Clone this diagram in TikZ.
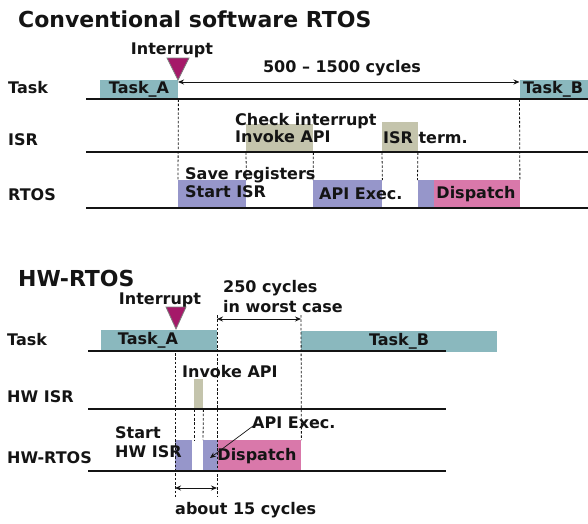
\documentclass[tikz,border=0pt]{standalone}
\usepackage{fontspec}
\setmainfont{DejaVu Sans}
\usetikzlibrary{arrows.meta}
\definecolor{taskc}{RGB}{138,184,190}
\definecolor{isrc}{RGB}{196,196,172}
\definecolor{rtosc}{RGB}{150,150,202}
\definecolor{dispc}{RGB}{217,120,170}
\definecolor{trif}{RGB}{165,25,105}
\definecolor{trio}{RGB}{125,125,125}
\definecolor{ink}{RGB}{20,20,20}
\begin{document}
\begin{tikzpicture}[x=1pt,y=-1pt,
  txt/.style={inner sep=0pt,font=\fontsize{16}{18}\selectfont\bfseries,text=ink},
  ttl/.style={inner sep=0pt,anchor=west,font=\fontsize{22}{24}\selectfont\bfseries,text=ink},
  blk/.style={draw=none,inner sep=0pt,anchor=north west},
  row/.style={line width=1.1pt,draw=ink},
  guide/.style={line width=0.8pt,dash pattern=on 2.5pt off 1.8pt,draw=ink},
  span/.style={line width=0.9pt,draw=ink,{Stealth[length=6pt,width=5pt]}-{Stealth[length=6pt,width=5pt]}},
  intr/.style={fill=trif,draw=trio,line width=0.8pt}
]
\useasboundingbox (0,0) rectangle (588,523);

% ================= Conventional =================
\node[ttl] (t1) at (18,19) {Conventional software RTOS};
\node[txt] (int1) at (172,50) {Interrupt};
\node[txt] (cyc1) at (342,68) {500 – 1500 cycles};

\node[txt,anchor=west] (lt1) at (8,88) {Task};
\node[txt,anchor=west] (li1) at (8,140) {ISR};
\node[txt,anchor=west] (lr1) at (8,195) {RTOS};

% boxes
\node[blk,fill=taskc,minimum width=78,minimum height=19] (taskA) at (100,80) {};
\node[blk,fill=taskc,minimum width=69,minimum height=19] (taskB) at (519.5,80) {};
\node[blk,fill=isrc,minimum width=67,minimum height=28] (chk) at (246,124) {};
\node[blk,fill=isrc,minimum width=35.5,minimum height=30] (isrt) at (382,122) {};
\node[blk,fill=rtosc,minimum width=68,minimum height=28] (sisr) at (178,180) {};
\node[blk,fill=rtosc,minimum width=69,minimum height=28] (apiex) at (313,180) {};
\node[blk,fill=rtosc,minimum width=16,minimum height=28] (dsp1) at (417.5,180) {};
\node[blk,fill=dispc,minimum width=86,minimum height=28] (dsp2) at (433.5,180) {};

% row lines
\coordinate (r1a) at (86,99);  \coordinate (r1b) at (588,99);
\coordinate (r2a) at (86,152); \coordinate (r2b) at (588,152);
\coordinate (r3a) at (86,208); \coordinate (r3b) at (588,208);
\draw[row] (r1a) -- (r1b);
\draw[row] (r2a) -- (r2b);
\draw[row] (r3a) -- (r3b);

% texts in/near boxes
\node[txt] (taskAt) at (139,89.5) {Task\_A};
\node[txt] (taskBt) at (553,89.5) {Task\_B};
\node[txt,anchor=west] (chkt1) at (235,121) {Check interrupt};
\node[txt,anchor=west] (chkt2) at (235,137) {Invoke API};
\node[txt,anchor=west] (isrtt) at (383,138) {ISR term.};
\node[txt,anchor=west] (sisrt1) at (185,175) {Save registers};
\node[txt,anchor=west] (sisrt2) at (185,192) {Start ISR};
\node[txt,anchor=west] (apiext) at (319,194) {API Exec.};
\node[txt] (dsp2t) at (476,194) {Dispatch};

% guides
\draw[guide] (taskA.south east) -- (sisr.north west);
\draw[guide] (chk.south west) -- (sisr.north east);
\draw[guide] (chk.south east) -- (apiex.north west);
\draw[guide] (isrt.south west) -- (apiex.north east);
\draw[guide] (isrt.south east) -- (dsp1.north west);
\draw[guide] (taskB.south west) -- (dsp2.north east);

% interrupt + span
\draw[intr] (167,58) -- (189,58) -- (178,80) -- cycle;
\coordinate (s1a) at (178,82); \coordinate (s1b) at (519.5,82);
\draw[span] (s1a) -- (s1b);

% ================= HW-RTOS =================
\node[ttl] (t2) at (18,278) {HW-RTOS};
\node[txt] (int2) at (160,300) {Interrupt};
\node[txt,anchor=west] (c250a) at (223,288) {250 cycles};
\node[txt,anchor=west] (c250b) at (223,307) {in worst case};

\node[txt,anchor=west] (lt2) at (7,340) {Task};
\node[txt,anchor=west] (li2) at (7,397) {HW ISR};
\node[txt,anchor=west] (lr2) at (7,458) {HW-RTOS};

\node[blk,fill=taskc,minimum width=116,minimum height=21] (taskA2) at (101,330) {};
\node[blk,fill=taskc,minimum width=196,minimum height=21] (taskB2) at (301,331) {};
\node[blk,fill=isrc,minimum width=9,minimum height=30] (ia) at (194,379) {};
\node[blk,fill=rtosc,minimum width=17,minimum height=31] (p1) at (175,440) {};
\node[blk,fill=rtosc,minimum width=15,minimum height=31] (p2) at (203,440) {};
\node[blk,fill=dispc,minimum width=83,minimum height=31] (pk) at (218,440) {};

\coordinate (q1a) at (88,351); \coordinate (q1b) at (446,351);
\coordinate (q2a) at (88,409); \coordinate (q2b) at (446,409);
\coordinate (q3a) at (88,471); \coordinate (q3b) at (446,471);
\draw[row] (q1a) -- (q1b);
\draw[row] (q2a) -- (q2b);
\draw[row] (q3a) -- (q3b);

\node[txt] (taskA2t) at (148,340.5) {Task\_A};
\node[txt] (taskB2t) at (399,341) {Task\_B};
\node[txt,anchor=west] (iat) at (182,372) {Invoke API};
\node[txt,anchor=west] (sh1) at (115,433) {Start};
\node[txt,anchor=west] (sh2) at (115,452) {HW ISR};
\node[txt,anchor=west] (aet) at (252,423) {API Exec.};
\node[txt] (pkt) at (257,456) {Dispatch};
\node[txt,anchor=west] (c15) at (175,510) {about 15 cycles};

% guides
\coordinate (g1t) at (217,315); \coordinate (g1b) at (217,497);
\coordinate (g2t) at (301,315);
\coordinate (g3t) at (175,353); \coordinate (g3b) at (175,497);
\draw[guide] (g1t) -- (g1b);
\draw[guide] (g2t) -- (pk.north east);
\draw[guide] (g3t) -- (g3b);
\draw[guide] (ia.south west) -- (ia.south west |- p1.north);
\draw[guide] (ia.south east) -- (p2.north west);

\draw[intr] (166,307) -- (186,307) -- (176,329) -- cycle;

\coordinate (s2a) at (217,319); \coordinate (s2b) at (301,319);
\draw[span] (s2a) -- (s2b);
\coordinate (s3a) at (175,488); \coordinate (s3b) at (217,488);
\draw[span] (s3a) -- (s3b);

\coordinate (aetip) at (210,458);
\draw[line width=0.7pt,draw=ink,-{Stealth[length=6pt,width=5pt]}] (aet.west) ++(1,3) -- (aetip);
\end{tikzpicture}
\end{document}
